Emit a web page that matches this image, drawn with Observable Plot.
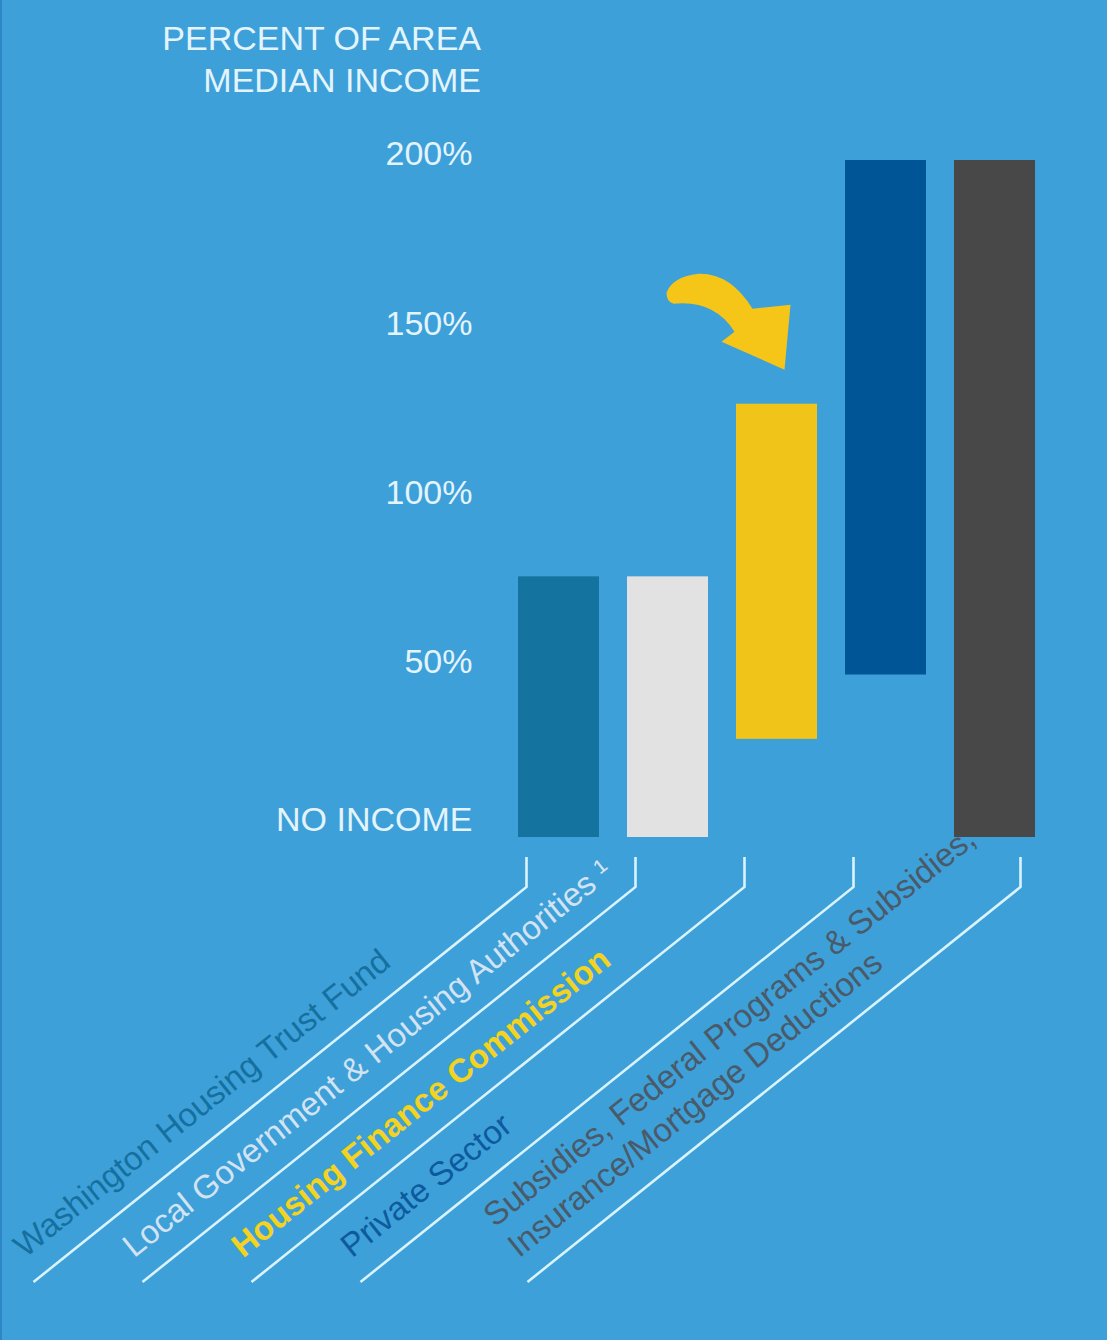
<!DOCTYPE html>
<html><head><meta charset="utf-8">
<script src="https://cdn.jsdelivr.net/npm/d3@7"></script>
<script src="https://cdn.jsdelivr.net/npm/@observablehq/plot@0.6"></script>
<style>
html,body{margin:0;padding:0;background:#3da0d9;}
body{width:1107px;height:1340px;overflow:hidden;position:relative;font-family:"Liberation Sans",Arial,Helvetica,sans-serif;}
#edge{position:absolute;left:0;top:0;width:2px;height:1340px;background:#2f86c6;}
#title{height:110px;box-sizing:border-box;padding-top:17px;width:481px;text-align:right;color:#e4f4fc;font-size:34px;line-height:42px;}
#chart svg{display:block;}
</style></head><body>
<div id="title">PERCENT OF AREA<br>MEDIAN INCOME</div>
<div id="chart"></div>
<div id="edge"></div>
<script>
// ---- data ----
const categories = [
  "Washington Housing Trust Fund",
  "Local Government & Housing Authorities",
  "Housing Finance Commission",
  "Private Sector",
  "Subsidies, Federal Programs & Subsidies, Insurance/Mortgage Deductions"
];
const categoryLabels = [
  "Washington Housing Trust Fund",
  "Local Government & Housing Authorities \u00b9",
  "Housing Finance Commission",
  "Private Sector",
  "Subsidies, Federal Programs & Subsidies,\nInsurance/Mortgage Deductions"
];
const lowAMI  = [0, 0, 29, 48, 0];
const highAMI = [77, 77, 128, 200, 200];
const tickValues = [0, 50, 100, 150, 200];
const tickLabels = ["NO INCOME", "50%", "100%", "150%", "200%"];

// ---- styles ----
const barColors   = ["#14749f", "#e2e2e2", "#f0c419", "#005597", "#484848"];
const labelColors = ["#16709f", "#d3e3f1", "#f3d31f", "#0d5a9c", "#4a5a68"];
const textColor = "#e4f4fc";
const lineColor = "#d9f3ff";
const FONT = "'Liberation Sans', Arial, Helvetica, sans-serif";
const ANGLE = 38.6;

const rows = categories.map((c, i) => ({name: c, lo: lowAMI[i], hi: highAMI[i], label: categoryLabels[i]}));

// leader anchor offsets relative to band centre, label offset from anchor
const anchorOff = i => (i < 4 ? -32 : 26);
const diagDX = -493, diagDY = 445;

const labelMarks = rows.map((r, i) => Plot.text([r], {
  x: "name",
  y: () => 0,
  text: "label",
  rotate: -ANGLE,
  textAnchor: "start",
  lineAnchor: "bottom",
  lineHeight: 1.18,
  dx: anchorOff(i) + diagDX - 9,
  dy: diagDY - 24,
  fill: labelColors[i],
  fontSize: 33,
  fontWeight: i === 2 ? "bold" : "normal"
}));

const chart = Plot.plot({
  width: 1107,
  height: 1230,
  marginLeft: 488,
  marginRight: 41,
  marginTop: 50,
  marginBottom: 503,
  style: {background: "transparent", color: textColor, fontFamily: FONT, overflow: "visible"},
  x: {domain: categories, padding: 0.255, axis: null},
  y: {domain: [0, 200], axis: null},
  color: {domain: categories, range: barColors},
  marks: [
    Plot.barY(rows, {x: "name", y1: "lo", y2: "hi", fill: "name"}),
    Plot.axisY(tickValues.slice(1), {
      tickFormat: d => tickLabels[tickValues.indexOf(d)],
      tickSize: 0, tickPadding: 16, fontSize: 34, dy: -6, fill: textColor, label: null
    }),
    Plot.axisY(tickValues.slice(0, 1), {
      tickFormat: d => tickLabels[tickValues.indexOf(d)],
      tickSize: 0, tickPadding: 16, fontSize: 34, dy: -17, fill: textColor, label: null
    }),
    ...labelMarks
  ]
});
document.getElementById("chart").appendChild(chart);

// leader lines and arrow, positioned from Plot's scales
const xs = chart.scale("x"), ys = chart.scale("y");
const bw = xs.bandwidth;
const svg = d3.select(chart);
const y0 = ys.apply(0);
const g = svg.append("g").attr("fill", "none").attr("stroke", lineColor).attr("stroke-width", 2.6).attr("stroke-linejoin", "miter");
categories.forEach((c, i) => {
  const ax = xs.apply(c) + bw / 2 + anchorOff(i);
  g.append("path").attr("d", `M${ax},${y0 + 20}L${ax},${y0 + 50}L${ax + diagDX},${y0 + diagDY}`);
});

// curved arrow pointing at the Housing Finance Commission bar
const cx = xs.apply(categories[2]) + bw / 2;
const cy = ys.apply(highAMI[2]);
svg.append("path")
  .attr("transform", `translate(${cx},${cy})`)
  .attr("fill", "#f5c518")
  .attr("d", "M-110,-111 Q-104,-127 -78,-130 Q-46,-131 -24,-95 L14,-99 L8,-34 L-55,-62 L-42,-72 Q-62,-104 -103,-100 Q-110,-102 -110,-111 Z");
</script>
</body></html>
